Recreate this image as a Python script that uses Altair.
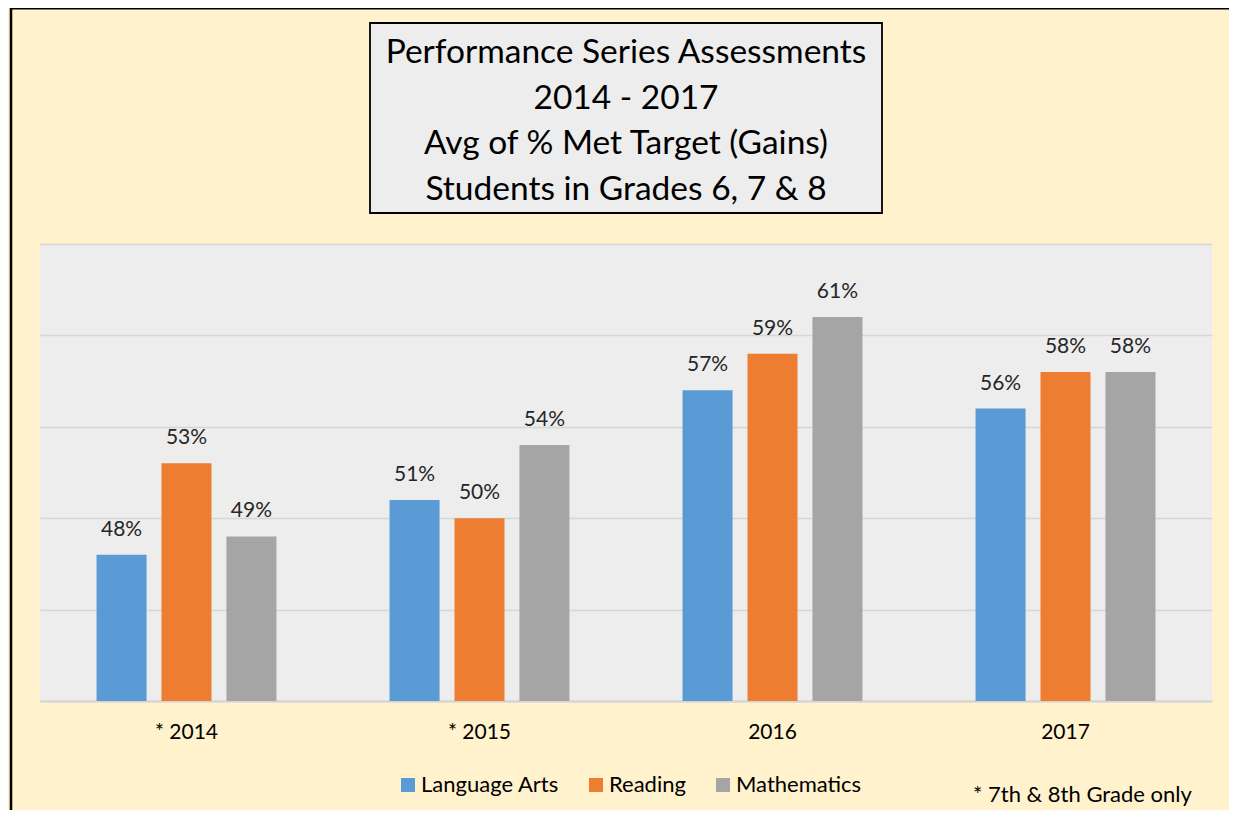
import altair as alt
import pandas as pd

years = ["* 2014", "* 2015", "2016", "2017"]
subjects = ["Language Arts", "Reading", "Mathematics"]
language_arts = [48, 51, 57, 56]
reading = [53, 50, 59, 58]
mathematics = [49, 54, 61, 58]
colors = ["#5B9BD5", "#ED7D31", "#A5A5A5"]
title_lines = ["Performance Series Assessments", "2014 - 2017",
               "Avg of % Met Target (Gains)", "Students in Grades 6, 7 & 8"]
footnote = "* 7th & 8th Grade only"

rows = []
for subj, vals in zip(subjects, [language_arts, reading, mathematics]):
    for y, v in zip(years, vals):
        rows.append({"year": y, "subject": subj, "value": v})
df = pd.DataFrame(rows)

FONT = "Lato"
W, H = 1172, 457
AXIS_MIN = 40

x_enc = alt.X("year:N", sort=years, title=None,
              scale=alt.Scale(paddingInner=0.386, paddingOuter=0.193),
              axis=alt.Axis(labelFontSize=21, labelColor="#000000", labelFont=FONT,
                            labelPadding=20, ticks=False, domainColor="#D4D4D4",
                            domainWidth=2, labelAngle=0))
xoff = alt.XOffset("subject:N", sort=subjects,
                   scale=alt.Scale(paddingInner=0.23, paddingOuter=0))
y_enc = alt.Y("value:Q", title=None,
              scale=alt.Scale(domain=[AXIS_MIN, 65], nice=False, zero=False),
              axis=alt.Axis(values=[40, 45, 50, 55, 60, 65], labels=False, ticks=False,
                            domain=False, grid=True, gridColor="#D6D6D6", gridWidth=1.5))

base = alt.Chart(df)
bars = base.mark_bar().encode(
    x=x_enc, xOffset=xoff, y=y_enc, y2=alt.datum(AXIS_MIN),
    color=alt.Color("subject:N", sort=subjects,
                    scale=alt.Scale(domain=subjects, range=colors),
                    legend=alt.Legend(title=None, orient="none", direction="horizontal",
                                      legendX=357, legendY=530, symbolType="square",
                                      symbolSize=196, symbolStrokeWidth=0,
                                      labelFontSize=22, labelFont=FONT, labelColor="#000000",
                                      labelOffset=2, columnPadding=26)),
)
labels = base.mark_text(baseline="bottom", dy=-15, fontSize=21, font=FONT,
                        color="#262626").encode(
    x=alt.X("year:N", sort=years), xOffset=xoff, y=alt.Y("value:Q"),
    text="lbl:N",
).transform_calculate(lbl="datum.value + '%'")

one = pd.DataFrame({"a": [0]})
dec = alt.Chart(one)
title_box = dec.mark_rect(fill="#EDEDED", stroke="#000000", strokeWidth=1.8).encode(
    x=alt.value(330), x2=alt.value(842), y=alt.value(-221), y2=alt.value(-31))
title_txt = dec.mark_text(align="center", baseline="middle", fontSize=33.5, font=FONT,
                          color="#000000", lineHeight=45.5).encode(
    x=alt.value(586), y=alt.value(-191), text=alt.value(title_lines))
left_border = dec.mark_rule(color="#000000", strokeWidth=2.5).encode(
    x=alt.value(-29), y=alt.value(-236), y2=alt.value(600))
top_border = dec.mark_rule(color="#000000", strokeWidth=2).encode(
    x=alt.value(-30), x2=alt.value(1200), y=alt.value(-235.5))
foot = dec.mark_text(align="left", baseline="middle", fontSize=22, font=FONT,
                     color="#000000").encode(
    x=alt.value(933), y=alt.value(551), text=alt.value(footnote))

chart = alt.layer(bars, labels, title_box, title_txt, foot, left_border, top_border).properties(
    width=W, height=H,
    padding={"left": 32, "top": 236, "right": 17, "bottom": 109},
    autosize=alt.AutoSizeParams(type="none"),
    background="#FFF2CC",
).configure_view(fill="#EDEDED", stroke=None)

chart.save("out.html", embed_options={"renderer": "svg", "actions": False})
